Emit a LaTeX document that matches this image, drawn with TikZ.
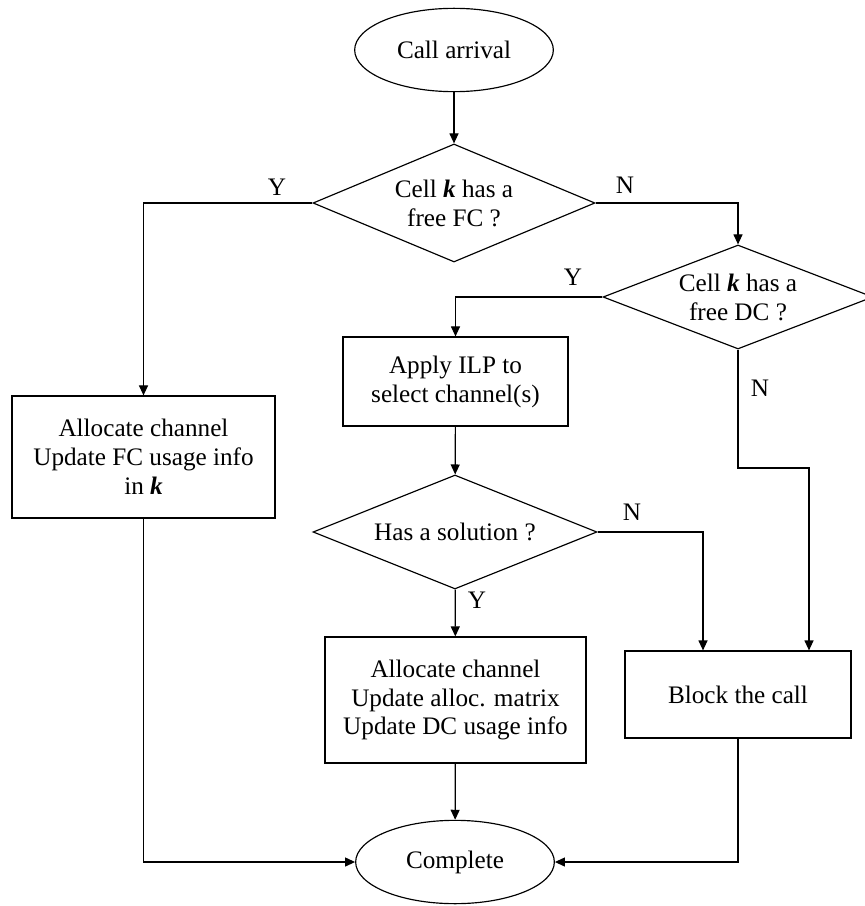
\documentclass[tikz,border=0pt]{standalone}
\usepackage{fontspec}
\setmainfont{Liberation Serif}
\usetikzlibrary{shapes.geometric,arrows.meta}

\begin{document}
\begin{tikzpicture}[x=0.03cm, y=-0.03cm, line width=0.035cm,
    every node/.style={font=\fontsize{21.5}{24.7}\selectfont},
    term/.style={draw, ellipse, inner sep=0pt, minimum width=5.96cm, minimum height=2.5cm},
    test/.style={draw, diamond, aspect=2.4, inner sep=0pt, align=center},
    proc/.style={draw, rectangle, inner sep=0pt, align=center},
    flow/.style={-{Triangle[length=0.3cm,width=0.27cm]}}]
    \useasboundingbox (0, 0) rectangle (864, 906);
    % terminals
    \node[term] (arrival) at (454, 50) {Call arrival};
    \node[term] (done) at (455, 862) {Complete};
    % tests
    \node[test, minimum width=8.46cm, minimum height=3.54cm] (freefc) at (454, 203)
      {Cell \textbf{\textit{k}} has a\\free FC ?};
    \node[test, minimum width=8.1cm, minimum height=3.12cm] (freedc) at (738, 297)
      {Cell \textbf{\textit{k}} has a\\free DC ?};
    \node[test, minimum width=8.52cm, minimum height=3.42cm] (solved) at (455, 532)
      {Has a solution ?};
    % actions
    \node[proc, minimum width=7.89cm, minimum height=3.66cm] (usefc) at (143.5, 457)
      {Allocate channel\\Update FC usage info\\in \textbf{\textit{k}}};
    \node[proc, minimum width=6.75cm, minimum height=2.67cm] (ilp) at (455.5, 381.5)
      {Apply ILP to\\select channel(s)};
    \node[proc, minimum width=7.83cm, minimum height=3.78cm] (usedc) at (455.5, 700)
      {Allocate channel\\Update alloc. matrix\\Update DC usage info};
    \node[proc, minimum width=6.78cm, minimum height=2.61cm] (block) at (738, 694.5)
      {Block the call};
    % branch labels
    \node (yfc) at (277, 187) {Y};
    \node (nfc) at (625, 185) {N};
    \node (ydc) at (573, 277) {Y};
    \node (ndc) at (760, 388) {N};
    \node (nsol) at (632, 512) {N};
    \node (ysol) at (477, 600) {Y};
    \coordinate (dcjog) at (809, 468);
    \coordinate (soljog) at (703, 532);
    % connectors
    \draw[flow] (arrival) -- (freefc);
    \draw[flow] (freefc.west) -| (usefc.north);
    \draw[flow] (freefc.east) -| (freedc.north);
    \draw[flow] (freedc.west) -| (ilp.north);
    \draw[flow] (freedc.south) |- (dcjog) -- (dcjog |- block.north);
    \draw[flow] (ilp) -- (solved);
    \draw[flow] (solved.east) -- (soljog) -- (soljog |- block.north);
    \draw[flow] (solved) -- (usedc);
    \draw[flow] (usedc) -- (done);
    \draw[flow] (usefc.south) |- (done.west);
    \draw[flow] (block.south) |- (done.east);
  \end{tikzpicture}
\end{document}
